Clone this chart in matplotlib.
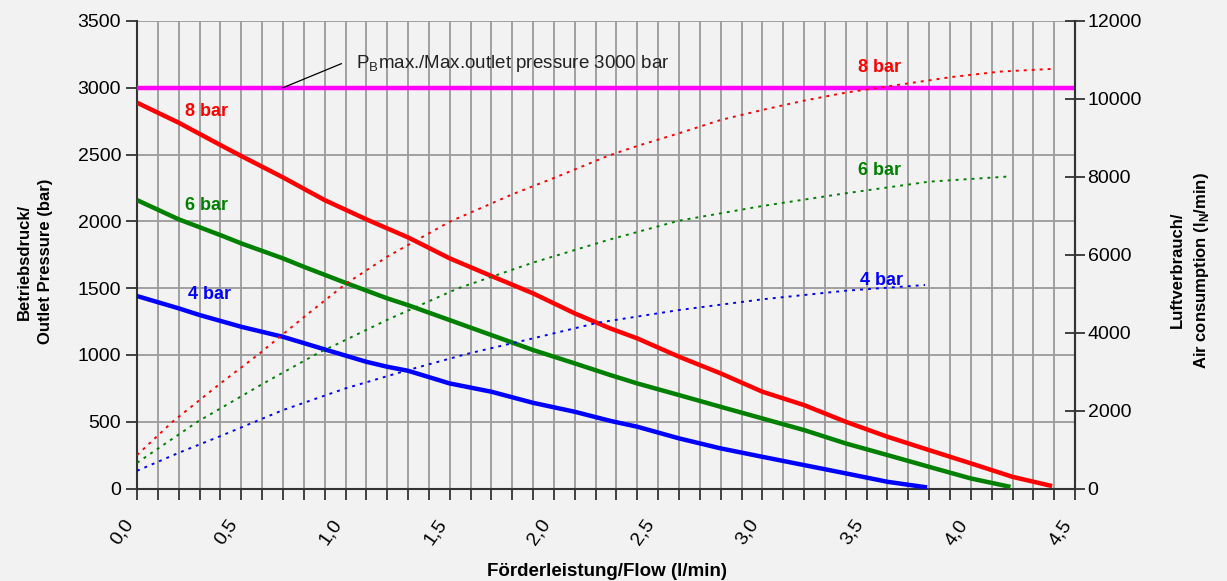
import matplotlib
matplotlib.use("Agg")
import matplotlib.pyplot as plt
from matplotlib.ticker import MultipleLocator, FuncFormatter

plt.rcParams['font.family'] = ['Liberation Sans', 'DejaVu Sans']

# Outlet pressure curves (left axis, bar) for 4 / 6 / 8 bar drive air
flow_8 = [0, 0.2, 0.4, 0.5, 0.7, 0.9, 1.1, 1.3, 1.5, 1.7, 1.9, 2.1, 2.27, 2.4,
          2.6, 2.8, 3.0, 3.2, 3.4, 3.6, 3.8, 4.0, 4.2, 4.39]
press_8 = [2888, 2738, 2571, 2489, 2329, 2159, 2015, 1880, 1723, 1591, 1461, 1311,
           1199, 1124, 987, 862, 725, 625, 500, 388, 288, 189, 88, 19]

flow_6 = [0, 0.2, 0.4, 0.5, 0.7, 0.8, 1.0, 1.2, 1.3, 1.5, 1.7, 1.9, 2.1, 2.27,
          2.4, 2.6, 2.8, 3.0, 3.2, 3.4, 3.6, 3.8, 4.0, 4.19]
press_6 = [2159, 2015, 1897, 1835, 1723, 1660, 1540, 1424, 1373, 1261, 1149, 1037,
           937, 850, 787, 700, 612, 525, 438, 338, 251, 163, 76, 13]

flow_4 = [0, 0.2, 0.3, 0.5, 0.7, 0.9, 1.1, 1.2, 1.3, 1.5, 1.7, 1.9, 2.1, 2.27,
          2.4, 2.6, 2.8, 3.0, 3.2, 3.4, 3.6, 3.79]
press_4 = [1441, 1349, 1299, 1211, 1136, 1042, 949, 912, 882, 787, 725, 642, 575,
           507, 463, 376, 301, 238, 176, 114, 51, 9]

# Air consumption curves (right axis, lN/min)
air_flow_8 = [0, 0.17, 0.4, 0.58, 0.8, 1.0, 1.2, 1.5, 1.8, 2.0, 2.26, 2.4, 2.6,
              2.8, 3.0, 3.2, 3.4, 3.65, 3.9, 4.14, 4.39]
air_8 = [860, 1715, 2700, 3435, 4400, 5250, 5950, 6849, 7550, 7970, 8540, 8792,
         9118, 9459, 9716, 9955, 10160, 10358, 10555, 10700, 10769]

air_flow_6 = [0, 0.29, 0.6, 0.86, 1.2, 1.54, 1.9, 2.26, 2.6, 3.0, 3.4, 3.8, 4.17]
air_6 = [663, 1715, 2680, 3453, 4330, 5139, 5800, 6380, 6875, 7252, 7578, 7876, 8004]

air_flow_4 = [0, 0.2, 0.4, 0.7, 1.0, 1.3, 1.58, 1.9, 2.21, 2.6, 3.0, 3.4, 3.78]
air_4 = [457, 919, 1348, 2015, 2572, 3042, 3453, 3856, 4256, 4582, 4857, 5078, 5224]

max_pressure = 3000

bg = '#f2f2f2'
fig = plt.figure(figsize=(12.27, 5.81), dpi=100, facecolor=bg)
ax = fig.add_axes([0.1117, 0.159, 0.7645, 0.805], facecolor=bg)
ax2 = ax.twinx()

# grid
ax.set_xlim(0, 4.5)
ax.set_ylim(0, 3500)
ax.xaxis.set_major_locator(MultipleLocator(0.5))
ax.xaxis.set_minor_locator(MultipleLocator(0.1))
ax.yaxis.set_major_locator(MultipleLocator(500))
ax.grid(True, which='both', axis='x', color='#9a9a9a', lw=1.3)
ax.grid(True, which='major', axis='y', color='#9a9a9a', lw=1.3)
ax.set_axisbelow(True)

# pressure curves
ax.plot(flow_8, press_8, color='#ff0000', lw=3.2, solid_capstyle='butt', zorder=4)
ax.plot(flow_6, press_6, color='#008000', lw=3.2, solid_capstyle='butt', zorder=4)
ax.plot(flow_4, press_4, color='#0000ff', lw=3.2, solid_capstyle='butt', zorder=4)
ax.axhline(max_pressure, color='#ff00ff', lw=3.2, zorder=5)

# air consumption curves
ax2.set_ylim(0, 12000)
ax2.yaxis.set_major_locator(MultipleLocator(2000))
dots = (0, (1.5, 2.6))
ax2.plot(air_flow_8, air_8, color='#ff0000', lw=1.4, ls=dots)
ax2.plot(air_flow_6, air_6, color='#008000', lw=1.4, ls=dots)
ax2.plot(air_flow_4, air_4, color='#0000ff', lw=1.4, ls=dots)

# curve labels
lab = dict(fontsize=13, fontweight='bold', va='center', zorder=6)
ax.text(0.23, 2820, '8 bar', color='#ff0000', **lab)
ax.text(0.23, 2115, '6 bar', color='#008000', **lab)
ax.text(0.245, 1450, '4 bar', color='#0000ff', **lab)
ax.text(3.46, 3155, '8 bar', color='#ff0000', **lab)
ax.text(3.46, 2378, '6 bar', color='#008000', **lab)
ax.text(3.47, 1555, '4 bar', color='#0000ff', **lab)

# max pressure annotation
ax.plot([0.70, 0.98], [max_pressure, 3180], color='black', lw=0.9, zorder=6)
ax.text(1.05, 3185, r'P$_\mathregular{B}$max./Max.outlet pressure 3000 bar',
        fontsize=13.5, va='center', color='#222222')

# ticks and spines
ax.xaxis.set_major_formatter(FuncFormatter(lambda v, p: f'{v:.1f}'.replace('.', ',')))
ax.tick_params(axis='x', which='both', direction='out', length=8, width=1.3,
               color='#333333', labelsize=14, pad=12)
ax.tick_params(axis='y', direction='out', length=8, width=1.3, color='#333333',
               labelsize=14)
ax2.tick_params(axis='y', direction='inout', length=14, width=1.3, color='#333333',
                labelsize=14, pad=2)
plt.setp(ax.get_xticklabels(), rotation=55, ha='right', va='top')
for a in (ax, ax2):
    a.spines['top'].set_visible(False)
    for s in ('left', 'right', 'bottom'):
        a.spines[s].set_color('#333333')
        a.spines[s].set_linewidth(1.5)
ax2.spines['left'].set_visible(False)
ax2.spines['bottom'].set_visible(False)

# axis titles
fig.text(0.0285, 0.55, 'Betriebsdruck/\nOutlet Pressure (bar)', rotation=90,
         ha='center', va='center', multialignment='center',
         fontsize=12, fontweight='bold', linespacing=1.5)
fig.text(0.970, 0.535, 'Luftverbrauch/\nAir consumption (l$_\\mathregular{N}$/min)',
         rotation=90, ha='center', va='center', multialignment='center',
         fontsize=12, fontweight='bold', linespacing=1.5)
fig.text(0.4947, 0.016, 'Förderleistung/Flow (l/min)', ha='center', va='center',
         fontsize=13.5, fontweight='bold')

fig.savefig('out.png', dpi=100, facecolor=bg)
